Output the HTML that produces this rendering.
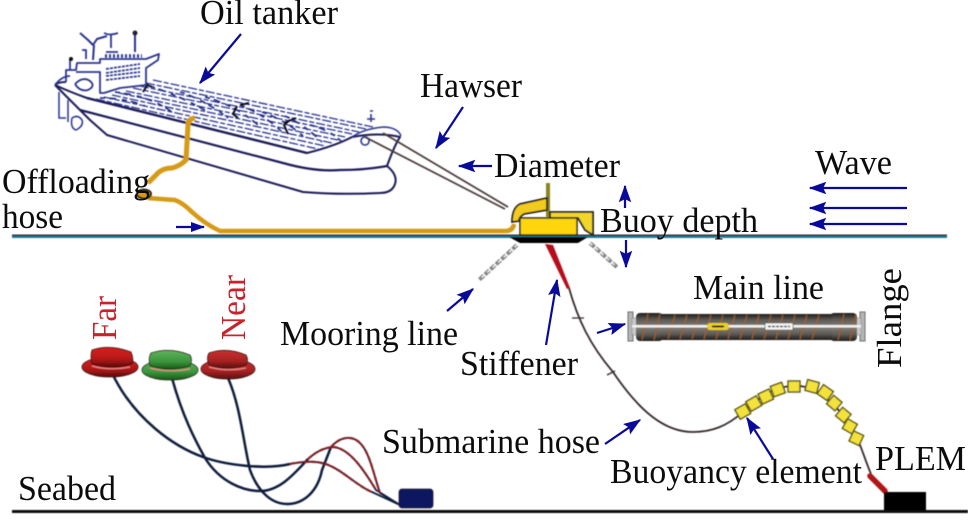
<!DOCTYPE html>
<html><head><meta charset="utf-8"><style>
html,body{margin:0;padding:0;background:#fff;width:968px;height:522px;overflow:hidden}
svg{display:block}
text{font-family:"Liberation Serif",serif;font-size:35px;fill:#0c0c0c}
</style></head><body>
<svg width="968" height="522" viewBox="0 0 968 522" xmlns="http://www.w3.org/2000/svg">
<defs>
<marker id="a" viewBox="0 0 14 10" refX="13" refY="5" markerWidth="8" markerHeight="5.7" markerUnits="strokeWidth" orient="auto"><path d="M0 0L14 5L0 10L2.500 5Z" fill="#0a0a9a"/></marker>
<marker id="b" viewBox="0 0 14 10" refX="13" refY="5" markerWidth="6.500" markerHeight="4.600" markerUnits="strokeWidth" orient="auto"><path d="M0 0L14 5L0 10Z" fill="#0a0a9a"/></marker>
<filter id="s" x="-5%" y="-5%" width="110%" height="110%"><feGaussianBlur stdDeviation="0.4"/></filter>
<linearGradient id="m" x1="0" y1="0" x2="0" y2="1"><stop offset="0" stop-color="#1d1c1a"/><stop offset=".22" stop-color="#5b5854"/><stop offset=".5" stop-color="#85817c"/><stop offset=".78" stop-color="#5b5854"/><stop offset="1" stop-color="#1d1c1a"/></linearGradient>
<linearGradient id="r1" x1="0" y1="0" x2="0" y2="1"><stop offset="0" stop-color="#d8201f"/><stop offset=".6" stop-color="#b31818"/><stop offset="1" stop-color="#5d0c0c"/></linearGradient>
<linearGradient id="r2" x1="0" y1="0" x2="0" y2="1"><stop offset="0" stop-color="#c93030"/><stop offset=".6" stop-color="#a82222"/><stop offset="1" stop-color="#5a1010"/></linearGradient>
<linearGradient id="g1" x1="0" y1="0" x2="0" y2="1"><stop offset="0" stop-color="#5fb45f"/><stop offset=".6" stop-color="#3b963b"/><stop offset="1" stop-color="#175a17"/></linearGradient>
</defs>
<rect width="968" height="522" fill="#fff"/>
<g filter="url(#s)">
<!-- ship hull -->
<g fill="none" stroke="#1c1c58" stroke-width="2" stroke-linejoin="round">
<path d="M55 85Q58 82 66 82M55 85Q70 92 87 98L307 153Q335 146 352 137Q380 132 400 137L397 142Q392 152 387 166Q398 175 395 184Q392 193 380 193Q340 195 303 192L107 135L90 120L55 85"/>
<path d="M80 110L283 163Q315 172 340 170Q365 170 387 166" stroke-width="2.200"/>
<path d="M87 98L307 153" stroke-width="2.400"/>
<path d="M59 92V118H66M68 100V122M72 118q6 -4 10 2q2 6 -6 10q-6 -2 -4 -12" stroke-width="1.500" stroke="#2c348e"/>
<path d="M352 137Q365 128 385 127Q398 128 401 136" stroke-width="1.500" stroke="#2c348e"/>
<path d="M365 137a4 4 0 1 0 .1 0M371 122v-8M367 119h8M370 111h3" stroke-width="1.600" stroke="#2c348e"/>
</g>
<!-- deck -->
<g fill="none" stroke="#2c358f" stroke-width="1.300" stroke-dasharray="9 2 5 2">
<path d="M153 80L373 127M146 83L366 129M140 86L359 132M133 88L352 134M126 91L345 137M119 93L338 140M112 95L332 143M104 97L325 146M96 99L318 149"/>
</g>
<g fill="none" stroke="#252d80" stroke-width="1.700" stroke-dasharray="5 4 7 6">
<path d="M100 98Q125 98 145 106M115 92Q150 96 172 112M150 86Q185 98 208 112M180 92Q205 100 228 118M205 97Q235 105 258 125M240 105Q265 115 282 132M262 112Q285 120 303 136M285 116Q305 125 322 142M310 125Q330 130 342 142"/>
</g>
<g fill="none" stroke="#111" stroke-width="2">
<path d="M148 84l-5 8M145 84l7 3M237 106l-4 8l5 4M240 105l9 -2M290 120l-6 5l4 9M284 123l12 -5"/>
</g>
<!-- superstructure -->
<g fill="none" stroke="#2c348e" stroke-width="1.800" stroke-linejoin="round">
<path d="M66 82V70H76L77 63H100V59H146L159 54L158 60L146 68V85L120 88L104 93H100V72H76"/>
<path d="M93 60L94 45M80 33L88 40L93 45L97 39L107 36" stroke-width="2"/>
<path d="M104 33Q110 36 118 33M111 34V48M106 52H118" stroke-width="1.800"/>
<path d="M135 33V52" stroke-width="2"/>
<path d="M82 50H86V59M70 58V70" stroke-width="1.800"/>
<path d="M105 56H142" stroke-width="3.500" stroke-dasharray="2 2"/>
<path d="M106 69L140 64M106 73L140 68M106 76L140 72M106 80L140 76" stroke-width="1.700" stroke-dasharray="3 1"/>
<path d="M75 84q8 -8 15 -3q6 5 -2 9q-8 2 -13 -6M55 85Q62 76 70 76"/>
</g>
<circle cx="71" cy="59" r="2" fill="#111"/><circle cx="135" cy="33" r="2.500" fill="#223"/>
<!-- hawser -->
<path d="M383 133L508 207M365 137L505 209" fill="none" stroke="#4a3c3a" stroke-width="1.800"/>
<!-- water -->
<rect x="12" y="234.500" width="935" height="1.500" fill="#333"/>
<rect x="12" y="236" width="935" height="2" fill="#1b7d9c"/>
<!-- offloading hose -->
<path d="M195 118Q188 119 188 125L186 160Q180 166 172 168Q162 168 156 175L148 183" fill="none" stroke="#d59a12" stroke-width="5" stroke-linejoin="round"/>
<path d="M148 198Q160 199 175 200Q183 203 192 212Q205 224 220 231H505Q513 231 514 224" fill="none" stroke="#d59a12" stroke-width="4.500" stroke-linejoin="round"/>
<ellipse cx="144" cy="194" rx="7" ry="4.500" fill="#d59a12" stroke="#111" stroke-width="1.800"/>
<!-- buoy -->
<path d="M509 237H588L578 243H520Z" fill="#000"/>
<path d="M548 183V217" stroke="#8a8420" stroke-width="4"/>
<path d="M512 222Q512 208 520 204L547 198V210L524 214Q519 217 519 221Z" fill="#f2cb1e" stroke="#222" stroke-width="1.800"/>
<path d="M550 212H593V235L585 230L578 218H550Z" fill="#f2d52a" stroke="#222" stroke-width="1.800"/>
<rect x="520" y="218" width="57" height="17" fill="#ffd60a" stroke="#222" stroke-width="1.500"/>
<!-- chains -->
<path d="M517 245L479 280M590 243L618 268" stroke="#858585" stroke-width="4" stroke-dasharray="6 1.500" fill="none"/>
<path d="M517 245L479 280M590 243L618 268" stroke="#fff" stroke-width="1.200" stroke-dasharray="3 4.500" fill="none"/>
<!-- stiffener + line -->
<path d="M545 244L553 245L570 288L567 289Z" fill="#b5101a"/>
<path d="M569 288C578 320 590 345 613 372C640 412 665 432 693 432C712 432 727 426 743 412" fill="none" stroke="#352b2b" stroke-width="1.800"/>
<path d="M743 412C765 392 780 386 793 386C815 384 835 403 850 425C860 440 864 458 871 474" fill="none" stroke="#352b2b" stroke-width="1.800"/>
<path d="M572 318h12M607 375l8 -4" stroke="#352b2b" stroke-width="1.300"/>
<path d="M870 476L885 491" stroke="#b01217" stroke-width="5.500" stroke-linecap="round"/>
<rect x="884" y="492" width="42" height="20" fill="#050505"/>
<!-- floats -->
<g fill="#f2e23a" stroke="#5b5418" stroke-width="1.400">
<rect x="737" y="406" width="12" height="11" transform="rotate(-30 743 412)"/>
<rect x="748" y="398" width="12" height="11" transform="rotate(-30 754 404)"/>
<rect x="760" y="391" width="12" height="11" transform="rotate(-25 766 397)"/>
<rect x="772" y="384" width="12" height="11" transform="rotate(-20 778 390)"/>
<rect x="788" y="381" width="12" height="11"/>
<rect x="806" y="381" width="12" height="11" transform="rotate(15 812 387)"/>
<rect x="819" y="387" width="12" height="11" transform="rotate(35 825 393)"/>
<rect x="829" y="398" width="11" height="11" transform="rotate(40 835 403)"/>
<rect x="838" y="410" width="11" height="11" transform="rotate(40 844 415)"/>
<rect x="844" y="421" width="11" height="11" transform="rotate(30 850 427)"/>
<rect x="851" y="433" width="11" height="11" transform="rotate(25 857 438)"/>
</g>
<!-- main line -->
<rect x="628" y="312" width="5" height="29" fill="#b5b5b5" stroke="#666"/>
<rect x="860" y="312" width="5" height="29" fill="#b5b5b5" stroke="#666"/>
<rect x="632" y="318" width="5" height="17" fill="#c8c8c8" stroke="#888" stroke-width=".6"/>
<rect x="856" y="318" width="5" height="17" fill="#c8c8c8" stroke="#888" stroke-width=".6"/>
<rect x="636" y="313" width="27" height="28" rx="4" fill="url(#m)"/>
<rect x="830" y="313" width="27" height="28" rx="4" fill="url(#m)"/>
<rect x="660" y="314" width="172" height="26" fill="url(#m)"/>
<path d="M642 340L648 314M654 340L660 314M668 339L675 315M680 339L687 315M692 339L699 315M704 339L711 315M716 339L723 315M728 339L735 315M740 339L747 315M752 339L759 315M764 339L771 315M776 339L783 315M788 339L795 315M800 339L807 315M812 339L819 315M838 340L844 314M850 340L856 314" stroke="#a8601e" stroke-width="1.400" opacity=".8"/>
<rect x="632" y="325" width="229" height="2.500" fill="#f0f0f0"/>
<rect x="707" y="323" width="22" height="7" rx="3" fill="#e8cf2a"/>
<rect x="765" y="323" width="28" height="7" rx="1" fill="#f4f4f4" stroke="#444" stroke-width=".6"/>
<path d="M712 326.500h12" stroke="#222" stroke-width="2"/>
<path d="M768 326.500h22" stroke="#555" stroke-width="1.500" stroke-dasharray="3 1"/>
<!-- seabed -->
<rect x="12" y="510" width="956" height="3" fill="#0a0a0a"/>
<!-- wet tree cables -->
<g fill="none" stroke="#101c3a" stroke-width="2.500">
<path d="M113 375C135 420 175 447 203 457C225 465 265 470 290 464"/>
<path d="M172 378C182 415 195 440 205 458C220 482 243 491 260 491C280 491 295 473 308 459"/>
<path d="M228 378C240 405 243 440 250 470C258 492 272 504 287 504C305 504 318 490 322 470L331 447"/>
</g>
<g fill="none" stroke="#101c3a" stroke-width="1.800">
<path d="M290 464Q310 460 322 463C340 467 355 485 372 492L400 505"/>
<path d="M308 459Q320 448 333 447C350 448 365 472 376 490L400 505"/>
<path d="M331 447Q340 437 350 438C368 440 372 470 380 493L400 505"/>
</g>
<g fill="none" stroke="#8c1c1c" stroke-width="2.200" stroke-dasharray="5 2">
<path d="M290 464Q310 460 322 463C340 467 355 485 372 492"/>
<path d="M308 459Q320 448 333 447C350 448 365 472 376 490"/>
<path d="M331 447Q340 437 350 438C368 440 372 470 380 493"/>
</g>
<rect x="399" y="489" width="34" height="19" rx="3" fill="#0a1560" stroke="#222" stroke-width=".8"/>
<!-- caps -->
<g stroke="#2a1010" stroke-width=".8">
<ellipse cx="110" cy="367" rx="28" ry="10" fill="url(#r1)"/>
<path d="M92 350Q110 344 131 352Q134 358 132 364Q112 370 92 364Q90 356 92 350Z" fill="url(#r1)"/>
<ellipse cx="170" cy="370" rx="28" ry="10" fill="url(#g1)"/>
<path d="M151 353Q170 347 190 355Q193 360 190 366Q170 372 150 366Q148 358 151 353Z" fill="url(#g1)"/>
<ellipse cx="228" cy="369" rx="27" ry="10" fill="url(#r2)"/>
<path d="M209 353Q227 347 246 355Q249 360 246 365Q227 371 209 365Q206 358 209 353Z" fill="url(#r2)"/>
</g>
<path d="M92 366Q110 371 130 367M150 368Q170 373 190 369M209 367Q227 372 246 368" fill="none" stroke="#e88a8a" stroke-width="1.300"/>
</g>
<!-- arrows -->
<g fill="none" stroke="#0a0a9a" stroke-width="2.200">
<path d="M241 34L200 83" marker-end="url(#a)"/>
<path d="M463 107L436 148" marker-end="url(#a)"/>
<path d="M492 166L459 166" marker-end="url(#a)"/>
<path d="M176 227L204 227" marker-end="url(#b)"/>
<path d="M625 208L625 186" marker-end="url(#a)"/>
<path d="M626 240L626 267" marker-end="url(#a)"/>
<path d="M907 188L810 188" marker-end="url(#a)"/>
<path d="M907 208L810 208" marker-end="url(#a)"/>
<path d="M907 224L810 224" marker-end="url(#a)"/>
<path d="M447 311L473 289" marker-end="url(#a)"/>
<path d="M546 345L557 280" marker-end="url(#a)"/>
<path d="M597 333L625 324" marker-end="url(#a)"/>
<path d="M605 444L640 420" marker-end="url(#a)"/>
<path d="M773 459L747 418" marker-end="url(#a)"/>
</g>
<!-- labels -->
<text x="200" y="24" textLength="138" lengthAdjust="spacingAndGlyphs">Oil tanker</text>
<text x="420" y="97" textLength="102" lengthAdjust="spacingAndGlyphs">Hawser</text>
<text x="494" y="177" textLength="126" lengthAdjust="spacingAndGlyphs">Diameter</text>
<text x="815" y="174" textLength="77" lengthAdjust="spacingAndGlyphs">Wave</text>
<text x="2" y="193" textLength="148" lengthAdjust="spacingAndGlyphs">Offloading</text>
<text x="2" y="228" textLength="61" lengthAdjust="spacingAndGlyphs">hose</text>
<text x="600" y="232" textLength="158" lengthAdjust="spacingAndGlyphs">Buoy depth</text>
<text x="693" y="299" textLength="131" lengthAdjust="spacingAndGlyphs">Main line</text>
<text x="280" y="345" textLength="178" lengthAdjust="spacingAndGlyphs">Mooring line</text>
<text x="460" y="375" textLength="118" lengthAdjust="spacingAndGlyphs">Stiffener</text>
<text x="382" y="453" textLength="218" lengthAdjust="spacingAndGlyphs">Submarine hose</text>
<text x="610" y="483" textLength="252" lengthAdjust="spacingAndGlyphs">Buoyancy element</text>
<text x="875" y="470" textLength="91" lengthAdjust="spacingAndGlyphs">PLEM</text>
<text x="18" y="500" textLength="98" lengthAdjust="spacingAndGlyphs">Seabed</text>
<text transform="translate(901 368) rotate(-90)" textLength="100" lengthAdjust="spacingAndGlyphs">Flange</text>
<text transform="translate(116 340) rotate(-90)" textLength="44" lengthAdjust="spacingAndGlyphs" style="fill:#c8232a">Far</text>
<text transform="translate(245 340) rotate(-90)" textLength="65" lengthAdjust="spacingAndGlyphs" style="fill:#c8232a">Near</text>
</svg>
</body></html>
